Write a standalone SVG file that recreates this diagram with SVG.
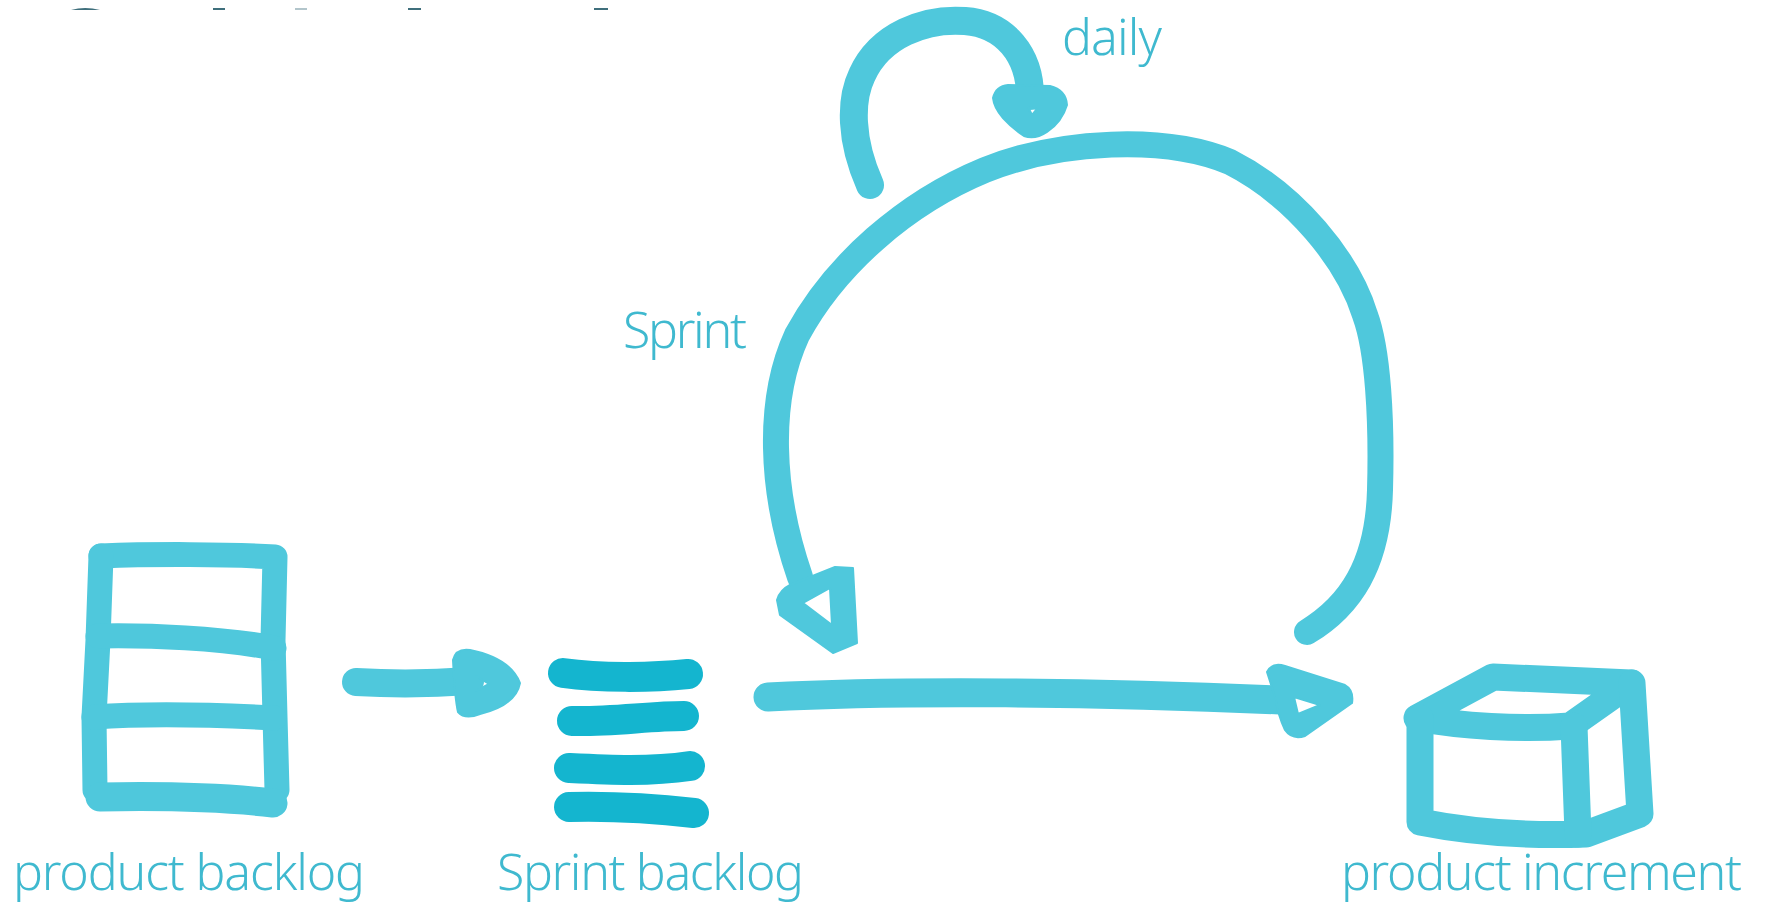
<svg xmlns="http://www.w3.org/2000/svg" width="1768" height="907" viewBox="0 0 1768 907">
<style>
.s{fill:none;stroke:#4fc8dc;stroke-width:25;stroke-linecap:round;stroke-linejoin:round}
.h{fill:#4fc8dc;fill-rule:evenodd;stroke:#4fc8dc;stroke-width:2;stroke-linejoin:round}
.d{fill:none;stroke:#14b5cf;stroke-width:30;stroke-linecap:round;stroke-linejoin:round}
.t{font-family:"Noto Sans","Liberation Sans",sans-serif;font-weight:300;font-size:50px;fill:#3fb9cf}
.f{fill:#3f6f7c}
</style>
<rect width="1768" height="907" fill="#fff"/>
<g id="title-fragments">
<path class="f" d="M71 10Q85 6 100 10Z"/>
<rect class="f" x="213" y="8" width="12" height="2"/>
<rect class="f" x="295" y="8" width="12" height="2" opacity=".4"/>
<rect class="f" x="408" y="8" width="13" height="2"/>
<rect class="f" x="594" y="8" width="14" height="2"/>
</g>
<g id="product-backlog">
<path class="s" d="M101 556C150 554 230 554 275 557L273 640L275 717L277 790"/>
<path class="s" d="M101 556L98 640L94 717L95 790"/>
<path class="s" d="M98 636C150 635 220 638 274 648M94 717C150 713 220 715 274 718"/>
<path class="s" style="stroke-width:29" d="M100 797C150 796 220 797 273 803"/>
<text class="t" x="13" y="890" textLength="352">product backlog</text>
</g>
<g id="sprint-backlog">
<path class="d" d="M563 673C600 678 650 678 688 674"/>
<path class="d" d="M572 721C610 722 650 716 684 716"/>
<path class="d" d="M569 768C610 770 650 772 690 766"/>
<path class="d" d="M569 807C610 806 650 808 694 813"/>
<text class="t" x="497" y="890" textLength="307">Sprint backlog</text>
</g>
<g id="product-increment">
<path class="s" style="stroke-width:27" d="M1417 718L1493 677L1631 683L1570 726C1520 730 1460 726 1417 718Z"/>
<path class="s" style="stroke-width:27" d="M1420 718L1420 822C1470 832 1530 836 1586 834L1640 814L1632 683"/>
<path class="s" style="stroke-width:27" d="M1574 726L1578 834"/>
<text class="t" x="1341" y="890" textLength="401">product increment</text>
</g>
<g id="sprint-label"><text class="t" x="623" y="348" textLength="124">Sprint</text></g>
<g id="daily-label"><text class="t" x="1062" y="55" textLength="100">daily</text></g>
<g id="connectors">
<path class="s" style="stroke-width:28" d="M356 682C390 684 430 684 470 681"/>
<path class="h" d="M453 660Q456 648 470 650Q510 658 520 683Q516 705 480 714Q465 720 458 712Q455 700 453 660ZM476 676L489 684L476 691Z"/>
<path class="s" style="stroke-width:29" d="M768 697C900 690 1100 692 1280 700"/>
<path class="h" d="M1267 672Q1272 662 1285 666L1345 685Q1354 690 1352 703Q1325 722 1305 736Q1292 740 1285 730Q1278 715 1276 700ZM1294 697L1320 705L1298 714Z"/>
<path class="s" style="stroke-width:26" d="M1307 632C1350 606 1378 565 1380 490C1382 420 1378 350 1365 315C1348 260 1295 195 1230 162C1165 135 1060 140 985 170C905 203 835 265 797 335C767 400 770 490 800 577"/>
<path class="h" d="M777 600Q780 590 790 585L835 567L853 568L857 643L833 653L780 615ZM803 603L830 588L832 625Z"/>
<path class="s" style="stroke-width:28" d="M870 185C850 140 850 100 862 75C880 35 925 18 965 21C1005 24 1030 55 1030 96"/>
<path class="h" d="M993 98Q996 86 1008 85L1050 86Q1066 90 1067 105Q1062 122 1047 132Q1035 140 1024 136Q1012 128 1003 118Q994 108 993 98ZM1028 107L1037 109L1032 115Z"/>
</g>
</svg>
